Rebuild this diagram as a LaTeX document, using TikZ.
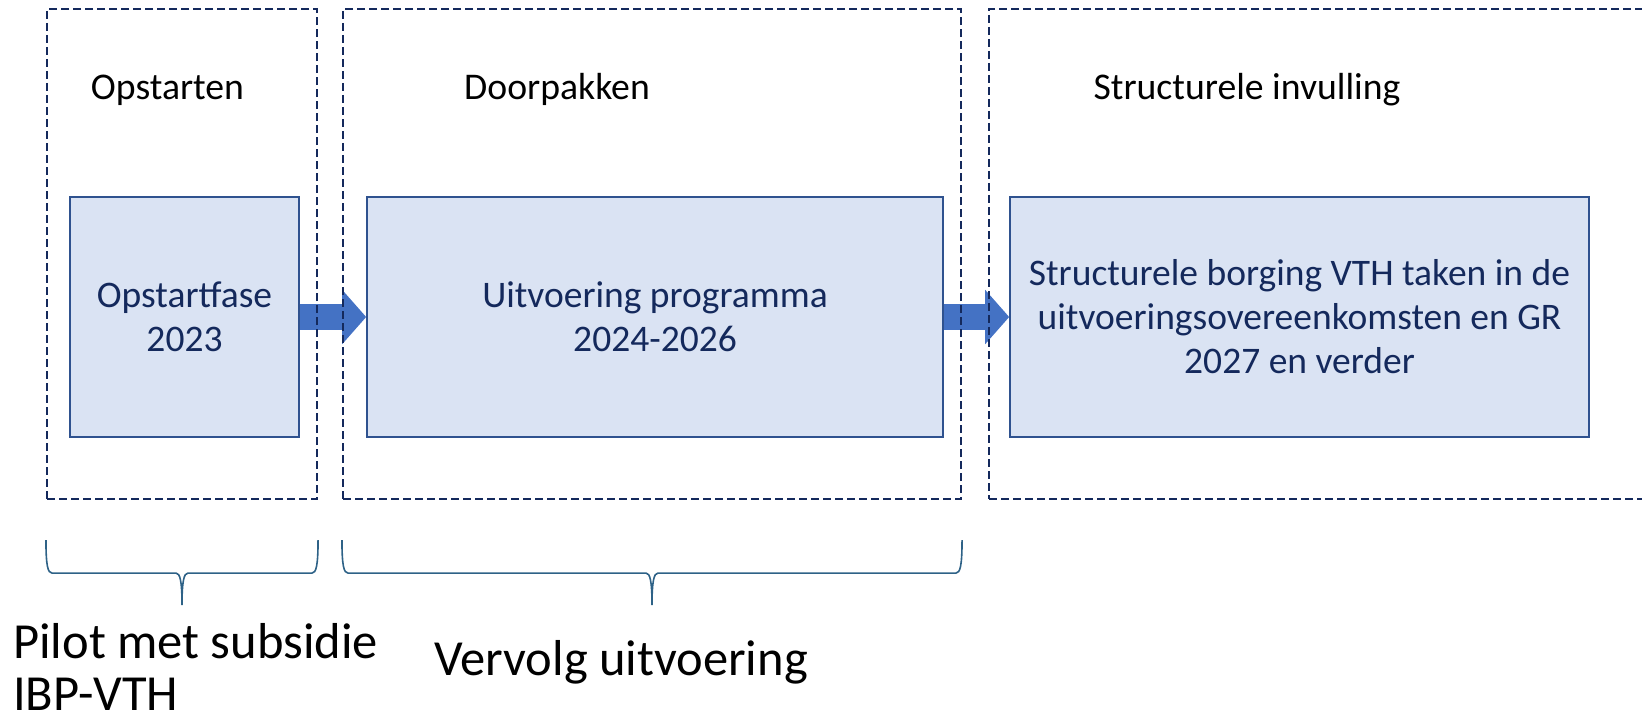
\documentclass[tikz,border=0pt]{standalone}
\usepackage{fontspec}
\setmainfont{Carlito}
\usetikzlibrary{arrows.meta,calc}

\definecolor{navy}{HTML}{14295C}
\definecolor{boxfill}{HTML}{DAE3F3}
\definecolor{boxline}{HTML}{2F528F}
\definecolor{arrowblue}{HTML}{4472C4}
\definecolor{bracecol}{HTML}{2E6287}

\tikzset{
  phase/.style={draw=navy, line width=2.1pt, dash pattern=on 8pt off 4pt, inner sep=0pt},
  taskbox/.style={draw=boxline, fill=boxfill, line width=1.6pt, inner sep=0pt, align=center,
    text=navy, font=\fontsize{37.5}{44}\selectfont},
  steplabel/.style={inner sep=0pt, anchor=base, font=\fontsize{37.7}{44}\selectfont},
  periodlabel/.style={inner sep=0pt, anchor=base west, font=\fontsize{50.5}{52}\selectfont},
  flow/.style={line width=26pt, draw=arrowblue, -{Triangle[length=24pt,width=53pt]}},
  curly/.style={draw=bracecol, line width=1.6pt}
}

% brace below a phase, from left end #1 to right end #2
\newcommand{\phasebrace}[2]{%
  \draw[curly] (#1) .. controls +(0,26) and +(-4,0) .. ([shift={(6,33)}]#1)
    -- ($(#1)!0.5!(#2)+(-6,33)$) .. controls +(4,0) and +(0,-24) .. ($(#1)!0.5!(#2)+(0,65)$)
    .. controls +(0,-24) and +(-4,0) .. ($(#1)!0.5!(#2)+(6,33)$)
    -- ([shift={(-6,33)}]#2) .. controls +(4,0) and +(0,26) .. (#2);}

\begin{document}
\begin{tikzpicture}[x=1pt,y=-1pt]
	\useasboundingbox (0,0) rectangle (1642,720);
	\clip (0,0) rectangle (1642,720);
	
	\node[taskbox, minimum width=229pt, minimum height=240pt] (O) at (184.5,317) {Opstartfase\\2023};
	\node[taskbox, minimum width=576pt, minimum height=240pt] (U) at (655,317) {Uitvoering programma\\2024-2026};
	\node[taskbox, minimum width=579pt, minimum height=240pt] (S) at (1299.5,317) {Structurele borging VTH taken in de\\uitvoeringsovereenkomsten en GR\\2027 en verder};
	
	\draw[flow] (O.east) -- (U.west);
	\draw[flow] (U.east) -- (S.west);
	
	\node[phase, minimum width=270pt, minimum height=490pt] (P1) at (182,254) {};
	\node[phase, minimum width=618pt, minimum height=490pt] (P2) at (652,254) {};
	\node[phase, minimum width=700pt, minimum height=490pt] (P3) at (1339,254) {};
	
	\node[steplabel] (L1) at (167.5,99) {Opstarten};
	\node[steplabel] (L2) at (557,99) {Doorpakken};
	\node[steplabel] (L3) at (1247,99) {Structurele invulling};
	
	\coordinate (B1l) at ([yshift=-40pt]P1.south west);
	\coordinate (B1r) at ([yshift=-40pt]P1.south east);
	\coordinate (B2l) at ([yshift=-40pt]P2.south west);
	\coordinate (B2r) at ([yshift=-40pt]P2.south east);
	\phasebrace{B1l}{B1r}
	\phasebrace{B2l}{B2r}
	
	\node[periodlabel] (T1) at (13,658) {Pilot met subsidie};
	\node[periodlabel] (T2) at (13,710) {IBP-VTH};
	\node[periodlabel, anchor=base] (T3) at (621,675) {Vervolg uitvoering};
\end{tikzpicture}
\end{document}
